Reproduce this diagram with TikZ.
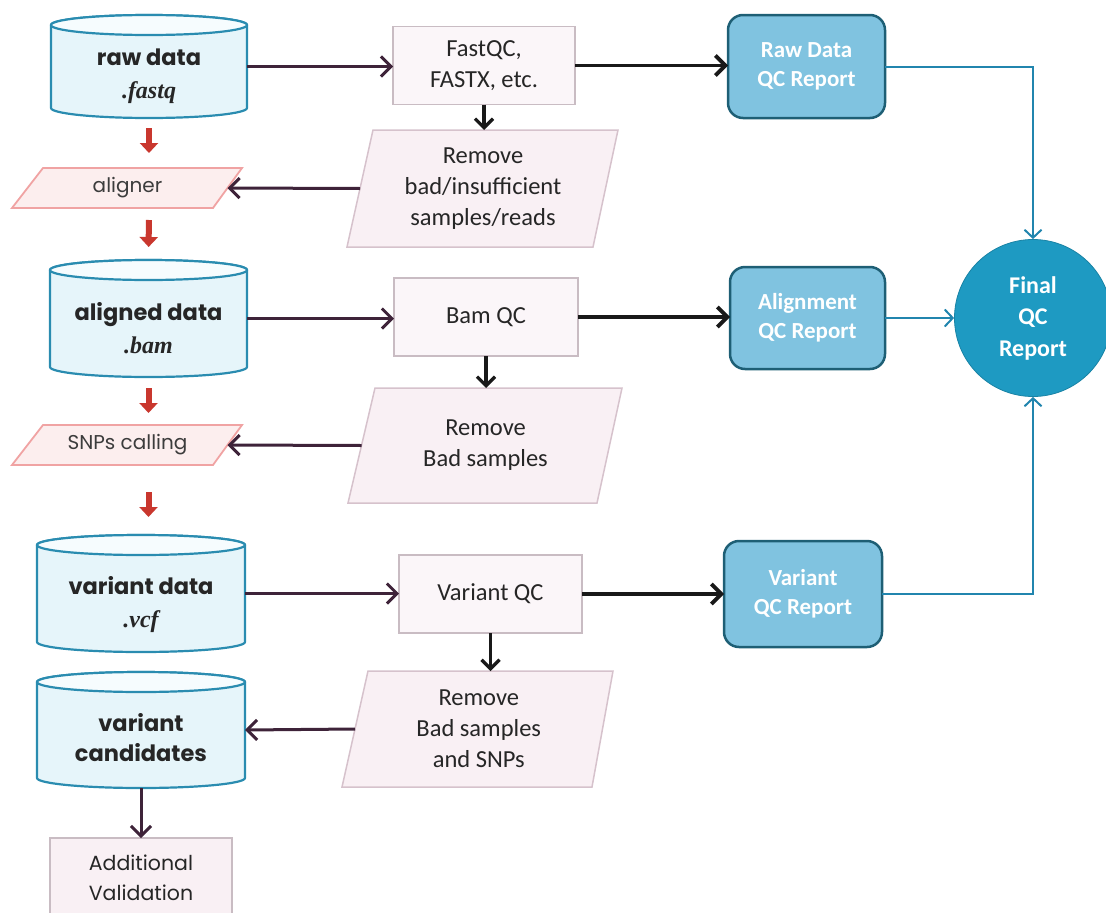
\documentclass[tikz,border=0pt]{standalone}
\usepackage{fontspec}
\setmainfont{Carlito}
\newfontfamily\gothic{Poppins}
\newfontfamily\extfont{Liberation Serif}
\usetikzlibrary{arrows.meta}

\definecolor{drumline}{HTML}{2A8CB0}
\definecolor{drumbody}{HTML}{E6F5FA}
\definecolor{drumtop}{HTML}{F6FCFE}
\definecolor{toolfill}{HTML}{FCEEEE}
\definecolor{toolline}{HTML}{F0A3A3}
\definecolor{qcfill}{HTML}{FBF6F9}
\definecolor{qcline}{HTML}{C9BCC3}
\definecolor{rmfill}{HTML}{F9F0F4}
\definecolor{rmline}{HTML}{D6C2CC}
\definecolor{repfill}{HTML}{80C3E0}
\definecolor{repline}{HTML}{1E5F75}
\definecolor{finalfill}{HTML}{1E9AC2}
\definecolor{linkblue}{HTML}{2185AE}
\definecolor{plum}{HTML}{3E2339}
\definecolor{blockred}{HTML}{C9372E}
\definecolor{ink}{HTML}{262626}

% cylinder outline: #1,#2 left/right x, #3,#4 top/bottom y (measured downwards)
\newcommand\drum[4]{%
  \filldraw[drumline, line width=2.2pt, fill=drumbody]
    (#1,{-(#3)-10}) -- (#1,{-(#4)+10})
    arc[start angle=180, end angle=360, x radius={(#2-#1)/2}, y radius=10]
    -- (#2,{-(#3)-10})
    arc[start angle=0, end angle=180, x radius={(#2-#1)/2}, y radius=10] -- cycle;
  \filldraw[drumline, line width=2.2pt, fill=drumtop]
    ({(#1+#2)/2},{-(#3)-10}) ellipse[x radius={(#2-#1)/2}, y radius=10];
}

\begin{document}
\begin{tikzpicture}[x=1pt, y=1pt,
  anchorbox/.style={inner sep=0pt, outer sep=0pt},
  drumtext/.style={align=center, text=ink, font=\fontsize{22.5}{33}\selectfont},
  tooltext/.style={anchorbox, text=ink!90, font=\gothic\fontsize{20}{24}\selectfont},
  qcbox/.style={draw=qcline, line width=1.5pt, fill=qcfill, align=center,
    text=ink, font=\fontsize{24.5}{31}\selectfont, inner sep=0pt, outer sep=0pt},
  rmtext/.style={anchorbox, align=center, text=ink, font=\fontsize{24.5}{31}\selectfont},
  repbox/.style={draw=repline, line width=2.5pt, fill=repfill, rounded corners=15pt,
    align=center, text=white, font=\bfseries\fontsize{23}{29}\selectfont,
    inner sep=0pt, outer sep=0pt},
  plumarrow/.style={draw=plum, line width=3pt, -{Straight Barb[length=10pt, width=20pt]}},
  blackarrow/.style={draw=black!90, line width=3.8pt, -{Straight Barb[length=10pt, width=20pt]}},
  downarrow/.style={draw=black!90, line width=3.2pt, -{Straight Barb[length=9pt, width=18pt]}},
  bluearrow/.style={draw=linkblue, line width=2pt, -{Straight Barb[length=8pt, width=17pt]}},
  redarrow/.style={draw=blockred, line width=6pt, -{Triangle[length=10pt, width=18pt]}},
]
\useasboundingbox (0,0) rectangle (1106,-913);
\clip (0,0) rectangle (1106,-913);

% ---------- data stores (left column) ----------
\drum{51}{247}{15}{118}
\drum{50}{247}{260}{377}
\drum{37}{245}{535}{652}
\drum{37}{245}{672}{788}
\node[anchorbox, minimum width=196pt, minimum height=103pt] (raw) at (149,-66.5) {};
\node[anchorbox, minimum width=197pt, minimum height=117pt] (aligned) at (148.5,-318.5) {};
\node[anchorbox, minimum width=208pt, minimum height=117pt] (variant) at (141,-593.5) {};
\node[anchorbox, minimum width=208pt, minimum height=116pt] (cand) at (141,-730) {};
\node[drumtext] (rawtxt) at (149,-76) {{\gothic\bfseries raw data}\\{\extfont\bfseries\itshape\fontsize{24}{33}\selectfont .fastq}};
\node[drumtext] (alignedtxt) at (148.5,-328) {{\gothic\bfseries aligned data}\\{\extfont\bfseries\itshape\fontsize{24}{33}\selectfont .bam}};
\node[drumtext] (varianttxt) at (141,-605) {{\gothic\bfseries variant data}\\{\extfont\bfseries\itshape\fontsize{24}{33}\selectfont .vcf}};
\node[drumtext, font=\gothic\bfseries\fontsize{22.5}{30}\selectfont] (candtxt) at (141,-738) {variant\\candidates};

% ---------- processing tools ----------
\filldraw[toolline, line width=1.8pt, fill=toolfill] (12,-208) -- (213,-208) -- (242,-168) -- (43,-168) -- cycle;
\node[tooltext, minimum width=200pt, minimum height=40pt] (aligner) at (127.5,-188) {aligner};
\filldraw[toolline, line width=1.8pt, fill=toolfill] (12,-465) -- (213,-465) -- (242,-425) -- (43,-425) -- cycle;
\node[tooltext, minimum width=200pt, minimum height=40pt] (snps) at (127.5,-445) {SNPs calling};

% ---------- QC steps ----------
\node[qcbox, minimum width=182pt, minimum height=78pt] (fastqc) at (484,-65.5) {FastQC,\\FASTX, etc.};
\node[qcbox, minimum width=184pt, minimum height=78pt] (bamqc) at (486,-317) {Bam QC};
\node[qcbox, minimum width=183pt, minimum height=78pt] (varqc) at (490.5,-594) {Variant QC};

\filldraw[rmline, line width=1.5pt, fill=rmfill] (347,-247) -- (593,-247) -- (618,-130) -- (373,-130) -- cycle;
\node[rmtext, minimum width=246pt, minimum height=117pt] (rem1) at (483,-188.5) {Remove\\bad/insufficient\\samples/reads};
\filldraw[rmline, line width=1.5pt, fill=rmfill] (348,-503) -- (597,-503) -- (622,-388) -- (375,-388) -- cycle;
\node[rmtext, minimum width=248pt, minimum height=115pt] (rem2) at (485.5,-445.5) {Remove\\Bad samples};
\filldraw[rmline, line width=1.5pt, fill=rmfill] (342,-787) -- (592,-787) -- (613,-671) -- (368,-671) -- cycle;
\node[rmtext, minimum width=247.5pt, minimum height=116pt] (rem3) at (478.75,-729) {Remove\\Bad samples\\and SNPs};

\node[qcbox, fill=rmfill, minimum width=182pt, minimum height=80pt,
  font=\gothic\fontsize{20.5}{30}\selectfont] (addval) at (141,-878) {Additional\\Validation};

% ---------- reports ----------
\node[repbox, minimum width=157pt, minimum height=103pt] (rawrep) at (806.5,-66.5) {Raw Data\\QC Report};
\node[repbox, minimum width=155pt, minimum height=102pt] (alnrep) at (807.5,-318) {Alignment\\QC Report};
\node[repbox, minimum width=158pt, minimum height=106pt] (varrep) at (803,-594) {Variant\\QC Report};
\node[circle, fill=finalfill, draw=finalfill!85!black, line width=0.8pt, minimum size=157pt,
  inner sep=0pt, align=center, text=white, font=\bfseries\fontsize{24}{31.5}\selectfont]
  (final) at (1033,-318) {Final\\QC\\Report};

% ---------- main pipeline ----------
\draw[redarrow, shorten <=10pt, shorten >=15pt] (raw.south) -- (raw.south |- aligner.north);
\draw[redarrow, shorten <=12pt, shorten >=13pt] (raw.south |- aligner.south) -- (aligned.north);
\draw[redarrow, shorten <=11pt, shorten >=12pt] (aligned.south) -- (aligned.south |- snps.north);
\draw[redarrow, shorten <=27pt, shorten >=18pt] (aligned.south |- snps.south) -- (aligned.south |- variant.north);
\draw[plumarrow] (cand.south) -- (addval.north);

% ---------- QC branches ----------
\draw[plumarrow] (raw.east) -- (raw.east -| fastqc.west);
\draw[plumarrow] (aligned.east) -- (aligned.east -| bamqc.west);
\draw[plumarrow] (variant.east) -- (variant.east -| varqc.west);

\draw[downarrow] (fastqc.south) -- (fastqc.south |- rem1.north);
\draw[downarrow] (bamqc.south) -- (bamqc.south |- rem2.north);
\draw[downarrow] (varqc.south) -- (varqc.south |- rem3.north);

\draw[plumarrow] (rem1.west) -- (aligner.east);
\draw[plumarrow] (rem2.west) -- (snps.east);
\draw[plumarrow] (rem3.west) -- (cand.east);

\draw[blackarrow] (fastqc.east) -- (fastqc.east -| rawrep.west);
\draw[blackarrow] (bamqc.east) -- (bamqc.east -| alnrep.west);
\draw[blackarrow] (varqc.east) -- (varqc.east -| varrep.west);

% ---------- reports into the final summary ----------
\draw[bluearrow] (rawrep.east) -| (final.north);
\draw[bluearrow] (alnrep.east) -- (final.west);
\draw[bluearrow] (varrep.east) -| (final.south);
\end{tikzpicture}
\end{document}
